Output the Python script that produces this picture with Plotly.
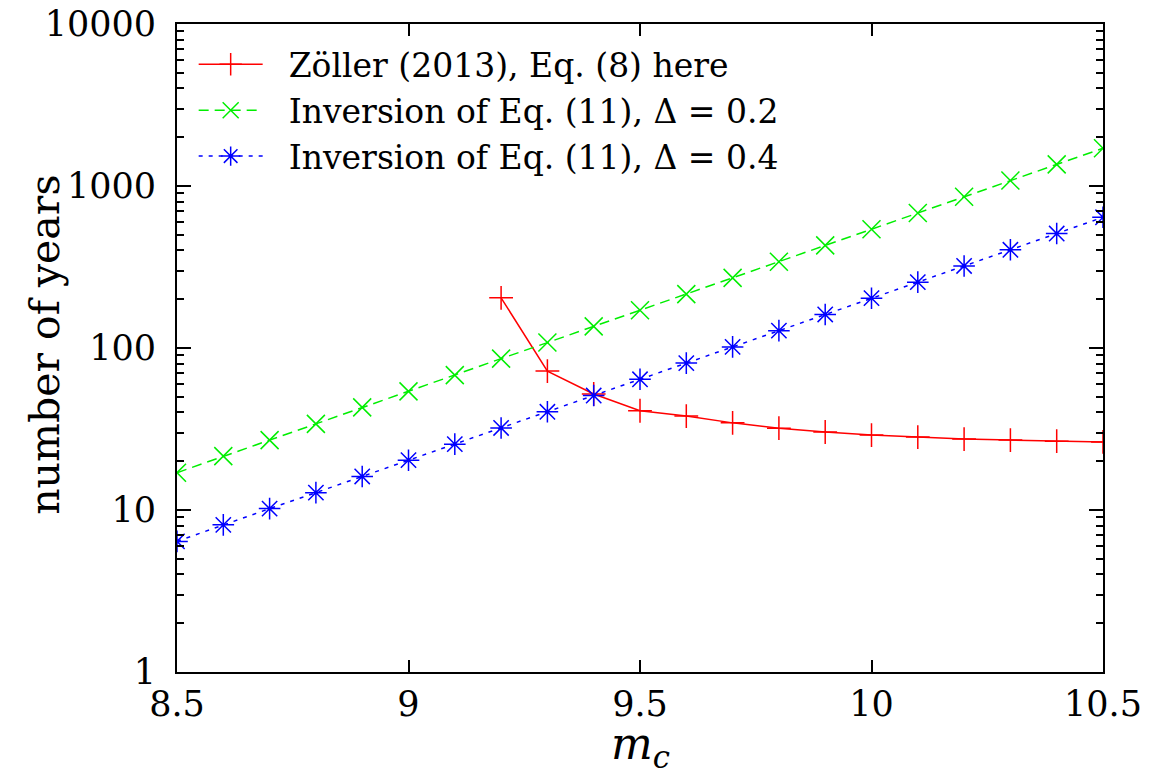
import plotly.graph_objects as go

m_c = [8.5, 8.6, 8.7, 8.8, 8.9, 9.0, 9.1, 9.2, 9.3, 9.4, 9.5,
       9.6, 9.7, 9.8, 9.9, 10.0, 10.1, 10.2, 10.3, 10.4, 10.5]
green_vals = [17, 21.5, 27, 34, 43, 54, 68, 86, 108, 136, 171,
              215, 271, 341, 430, 541, 681, 858, 1080, 1360, 1710]
blue_vals = [6.4, 8.1, 10.2, 12.8, 16.1, 20.3, 25.5, 32.1, 40.4, 50.9, 64.1,
             80.7, 101.6, 128, 161, 203, 255, 321, 404, 509, 641]
red_x = [9.2, 9.3, 9.4, 9.5, 9.6, 9.7, 9.8, 9.9, 10.0, 10.1, 10.2, 10.3, 10.4, 10.5]
red_vals = [204, 72, 52, 41, 38, 34.5, 32, 30.3, 29, 28.2, 27.4, 27, 26.6, 26.3]

y_ticks = [1, 10, 100, 1000, 10000]
y_ticktext = ["1", "10", "100", "1000", "10000"]
x_ticks = [8.5, 9, 9.5, 10, 10.5]
x_ticktext = ["8.5", "9", "9.5", "10", "10.5"]

FONT = "DejaVu Serif, serif"
PAD = "\u00a0\u00a0"

fig = go.Figure()
fig.add_trace(go.Scatter(
    x=red_x, y=red_vals, mode="lines+markers",
    name=PAD + "Zöller (2013), Eq. (8) here",
    line=dict(color="#ff0000", width=1.5),
    marker=dict(symbol="cross-thin-open", size=17, line=dict(color="#ff0000", width=1.5)),
))
fig.add_trace(go.Scatter(
    x=m_c, y=green_vals, mode="lines+markers",
    name=PAD + "Inversion of Eq. (11), Δ = 0.2",
    line=dict(color="#00ee00", width=1.5, dash="10px,6px"),
    marker=dict(symbol="x-thin-open", size=18, line=dict(color="#00ee00", width=1.5)),
))
fig.add_trace(go.Scatter(
    x=m_c, y=blue_vals, mode="lines+markers",
    name=PAD + "Inversion of Eq. (11), Δ = 0.4",
    line=dict(color="#0000ff", width=1.5, dash="4px,6px"),
    marker=dict(symbol="asterisk-open", size=18, line=dict(color="#0000ff", width=1.5)),
))

fig.update_layout(
    width=1150, height=774,
    margin=dict(l=169, r=55, t=16, b=110),
    paper_bgcolor="white", plot_bgcolor="white",
    font=dict(family=FONT, size=35, color="black"),
    showlegend=True,
    legend=dict(
        x=0.018, y=0.981, xanchor="left", yanchor="top",
        bgcolor="rgba(0,0,0,0)", font=dict(family=FONT, size=33),
        itemwidth=64, tracegroupgap=0,
    ),
    xaxis=dict(
        range=[8.5, 10.5], tickvals=x_ticks, ticktext=x_ticktext,
        ticks="inside", ticklen=12, tickwidth=1.5, tickcolor="black",
        showline=True, linecolor="black", linewidth=2, mirror="ticks",
        showgrid=False, zeroline=False, automargin=False,
        ticklabeloverflow="allow",
        tickfont=dict(size=35),
    ),
    yaxis=dict(
        type="log", range=[0, 4], tickvals=y_ticks, ticktext=y_ticktext,
        ticks="inside", ticklen=14, tickwidth=2, tickcolor="black",
        minor=dict(ticks="inside", ticklen=7, tickwidth=1.5, tickcolor="black", dtick="D1", showgrid=False),
        showline=True, linecolor="black", linewidth=2, mirror="ticks",
        showgrid=False, zeroline=False, automargin=False,
        ticklabeloverflow="allow", ticklabelstandoff=12,
        tickfont=dict(size=35),
    ),
    annotations=[
        dict(text="number of years", xref="paper", yref="paper",
             x=-0.1425, y=0.505, xanchor="center", yanchor="middle",
             textangle=-90, showarrow=False, font=dict(size=41)),
        dict(text="<i>m</i><sub><i>c</i></sub>", xref="paper", yref="paper",
             x=0.5, y=-0.115, xanchor="center", yanchor="middle",
             showarrow=False, font=dict(size=44)),
    ],
)

fig.write_html("out.html")
